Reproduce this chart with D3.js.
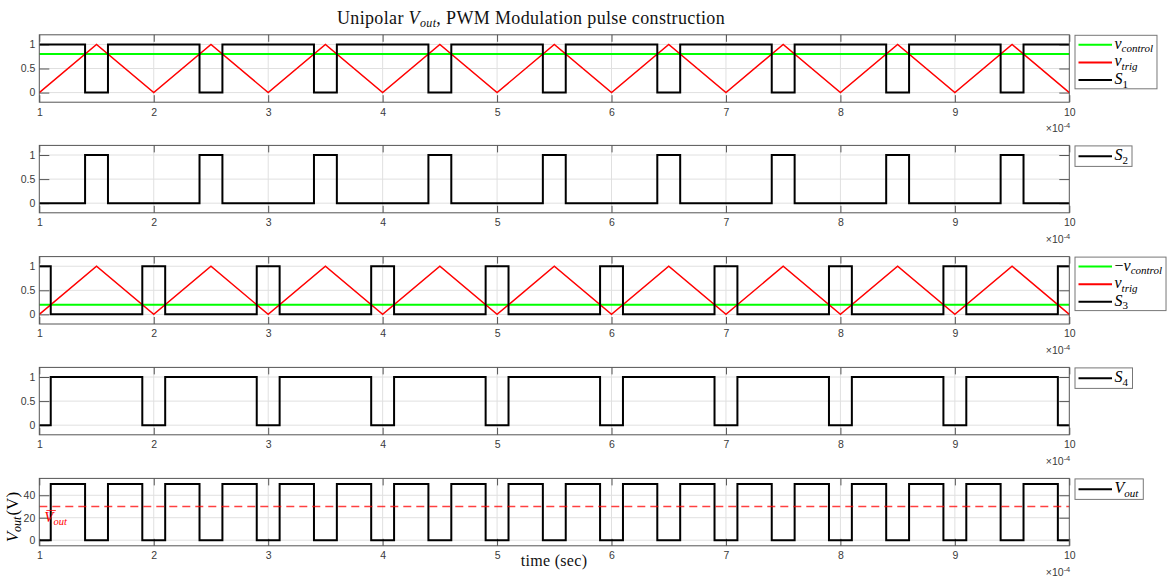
<!DOCTYPE html>
<html>
<head>
<meta charset="utf-8">
<script src="https://cdn.jsdelivr.net/npm/d3@7"></script>
<style>
  body { margin: 0; background: #fff; }
  svg { display: block; }
</style>
</head>
<body>
<svg id="chart" width="1168" height="577"></svg>
<script>
// Time is expressed in units of 1e-4 s.
const carrierT = [1, 1.5, 2, 2.5, 3, 3.5, 4, 4.5, 5, 5.5, 6, 6.5, 7, 7.5, 8, 8.5, 9, 9.5, 10];
const carrierV = [0, 1, 0, 1, 0, 1, 0, 1, 0, 1, 0, 1, 0, 1, 0, 1, 0, 1, 0];

const vControl = 0.8;
const vControlNeg = 0.2;

// Switch edges (value holds until the next instant)
const s1T = [1, 1.4, 1.6, 2.4, 2.6, 3.4, 3.6, 4.4, 4.6, 5.4, 5.6, 6.4, 6.6, 7.4, 7.6, 8.4, 8.6, 9.4, 9.6, 10];
const s1V = [1, 0, 1, 0, 1, 0, 1, 0, 1, 0, 1, 0, 1, 0, 1, 0, 1, 0, 1, 1];
const s2V = [0, 1, 0, 1, 0, 1, 0, 1, 0, 1, 0, 1, 0, 1, 0, 1, 0, 1, 0, 0];

const s3T = [1, 1.1, 1.9, 2.1, 2.9, 3.1, 3.9, 4.1, 4.9, 5.1, 5.9, 6.1, 6.9, 7.1, 7.9, 8.1, 8.9, 9.1, 9.9, 10];
const s3V = [1, 0, 1, 0, 1, 0, 1, 0, 1, 0, 1, 0, 1, 0, 1, 0, 1, 0, 1, 1];
const s4V = [0, 1, 0, 1, 0, 1, 0, 1, 0, 1, 0, 1, 0, 1, 0, 1, 0, 1, 0, 0];

const voutT = [1, 1.1, 1.4, 1.6, 1.9, 2.1, 2.4, 2.6, 2.9, 3.1, 3.4, 3.6, 3.9, 4.1, 4.4, 4.6, 4.9,
               5.1, 5.4, 5.6, 5.9, 6.1, 6.4, 6.6, 6.9, 7.1, 7.4, 7.6, 7.9, 8.1, 8.4, 8.6, 8.9,
               9.1, 9.4, 9.6, 9.9, 10];
const voutV = [0, 50, 0, 50, 0, 50, 0, 50, 0, 50, 0, 50, 0, 50, 0, 50, 0,
               50, 0, 50, 0, 50, 0, 50, 0, 50, 0, 50, 0, 50, 0, 50, 0,
               50, 0, 50, 0, 0];
const voutMean = 30;

const xTicks = [1, 2, 3, 4, 5, 6, 7, 8, 9, 10];
const yTicksSwitch = [0, 0.5, 1];
const yTicksVout = [0, 20, 40];

// ---------------------------------------------------------------
const svg = d3.select("#chart");
const W = 1168, H = 577;
const axL = 39.3, axR = 1069.3, axH = 67.4;
const tops = [34.8, 145.4, 256.6, 367.4, 478.4];

const AXIS_COL = "#555";
const GRID_COL = "#e0e0e0";
const TICK_COL = "#3a3a3a";
const TICK_FONT = "'Liberation Sans', Arial, sans-serif";
const MATH_FONT = "'Liberation Serif', 'Times New Roman', serif";

const x = d3.scaleLinear().domain([1, 10]).range([axL, axR]);

const zip = (t, v) => t.map((d, i) => [d, v[i]]);
const flat = (val) => [[1, val], [10, val]];

const panels = [
  {
    yDomain: [-0.2, 1.2], yTicks: yTicksSwitch,
    series: [
      { data: flat(vControl), color: "#00ff00", width: 2, step: false },
      { data: zip(carrierT, carrierV), color: "#ff0000", width: 1.5, step: false },
      { data: zip(s1T, s1V), color: "#000", width: 2, step: true }
    ],
    legend: [
      { color: "#00ff00", base: "v", sub: "control", subItalic: true },
      { color: "#ff0000", base: "v", sub: "trig", subItalic: true },
      { color: "#000", base: "S", sub: "1", subItalic: false }
    ]
  },
  {
    yDomain: [-0.2, 1.2], yTicks: yTicksSwitch,
    series: [ { data: zip(s1T, s2V), color: "#000", width: 2, step: true } ],
    legend: [ { color: "#000", base: "S", sub: "2", subItalic: false } ]
  },
  {
    yDomain: [-0.2, 1.2], yTicks: yTicksSwitch,
    series: [
      { data: flat(vControlNeg), color: "#00ff00", width: 2, step: false },
      { data: zip(carrierT, carrierV), color: "#ff0000", width: 1.5, step: false },
      { data: zip(s3T, s3V), color: "#000", width: 2, step: true }
    ],
    legend: [
      { color: "#00ff00", prefix: "\u2212", base: "v", sub: "control", subItalic: true },
      { color: "#ff0000", base: "v", sub: "trig", subItalic: true },
      { color: "#000", base: "S", sub: "3", subItalic: false }
    ]
  },
  {
    yDomain: [-0.2, 1.2], yTicks: yTicksSwitch,
    series: [ { data: zip(s3T, s4V), color: "#000", width: 2, step: true } ],
    legend: [ { color: "#000", base: "S", sub: "4", subItalic: false } ]
  },
  {
    yDomain: [-5, 55], yTicks: yTicksVout,
    series: [
      { data: zip(voutT, voutV), color: "#000", width: 2, step: true },
      { data: flat(voutMean), color: "#ff0000", width: 1.5, step: false, dash: "8,5", opacity: 0.75 }
    ],
    legend: [ { color: "#000", base: "V", sub: "out", subItalic: true } ]
  }
];

// Writes a math-style label (italic base letter with subscript) into a text element
function mathLabel(textSel, item, size, subSize) {
  if (item.prefix) {
    textSel.append("tspan").text(item.prefix).attr("font-size", size);
  }
  textSel.append("tspan").text(item.base)
    .attr("font-style", "italic").attr("font-size", size);
  textSel.append("tspan").text(item.sub)
    .attr("font-style", item.subItalic ? "italic" : "normal")
    .attr("font-size", subSize).attr("dy", size * 0.22);
}

panels.forEach((p, idx) => {
  const top = tops[idx];
  const y = d3.scaleLinear().domain(p.yDomain).range([top + axH, top]);
  const g = svg.append("g");

  // grid
  g.append("g").selectAll("line").data(xTicks.slice(1, -1)).join("line")
    .attr("x1", d => x(d)).attr("x2", d => x(d))
    .attr("y1", top).attr("y2", top + axH)
    .attr("stroke", GRID_COL).attr("stroke-width", 1);
  g.append("g").selectAll("line").data(p.yTicks).join("line")
    .attr("x1", axL).attr("x2", axR)
    .attr("y1", d => y(d)).attr("y2", d => y(d))
    .attr("stroke", GRID_COL).attr("stroke-width", 1);

  // inward tick marks on all four sides
  const xAxisB = d3.axisBottom(x).tickValues(xTicks).tickSizeInner(-7).tickSizeOuter(0)
    .tickFormat(d3.format("d")).tickPadding(6);
  const xAxisT = d3.axisTop(x).tickValues(xTicks).tickSizeInner(-7).tickSizeOuter(0).tickFormat("");
  const yAxisL = d3.axisLeft(y).tickValues(p.yTicks).tickSizeInner(-10).tickSizeOuter(0).tickPadding(4)
    .tickFormat(d => String(d));
  const yAxisR = d3.axisRight(y).tickValues(p.yTicks).tickSizeInner(-10).tickSizeOuter(0).tickFormat("");

  const styleAxis = (sel) => {
    sel.select(".domain").remove();
    sel.selectAll(".tick line").attr("stroke", AXIS_COL).attr("stroke-width", 1);
    sel.selectAll(".tick text").attr("fill", TICK_COL).attr("font-family", TICK_FONT).attr("font-size", 10.5);
  };
  g.append("g").attr("transform", `translate(0,${top + axH})`).call(xAxisB).call(styleAxis);
  g.append("g").attr("transform", `translate(0,${top})`).call(xAxisT).call(styleAxis);
  g.append("g").attr("transform", `translate(${axL},0)`).call(yAxisL).call(styleAxis);
  g.append("g").attr("transform", `translate(${axR},0)`).call(yAxisR).call(styleAxis);

  // data lines
  p.series.forEach(s => {
    const line = d3.line().x(d => x(d[0])).y(d => y(d[1]))
      .curve(s.step ? d3.curveStepAfter : d3.curveLinear);
    g.append("path").datum(s.data)
      .attr("d", line)
      .attr("fill", "none")
      .attr("stroke", s.color)
      .attr("stroke-width", s.width)
      .attr("stroke-dasharray", s.dash || null)
      .attr("stroke-opacity", s.opacity || 1)
      .attr("stroke-linejoin", "miter");
  });

  // axes box
  g.append("rect").attr("x", axL).attr("y", top).attr("width", axR - axL).attr("height", axH)
    .attr("fill", "none").attr("stroke", AXIS_COL).attr("stroke-width", 1);

  // exponent note
  const ex = g.append("text").attr("x", axR + 1).attr("y", top + axH + 30)
    .attr("text-anchor", "end").attr("fill", TICK_COL).attr("font-family", TICK_FONT).attr("font-size", 10.5);
  ex.append("tspan").text("\u00d710");
  ex.append("tspan").text("-4").attr("font-size", 7.5).attr("dy", -4);

  // legend
  const lg = g.append("g");
  const rowH = 17.6;
  const boxTop = top + 0.5;
  const boxH = p.legend.length === 1 ? 20.5 : 53.5;
  const firstRow = p.legend.length === 1 ? boxTop + boxH / 2 : boxTop + 9.5;
  const box = lg.append("rect").attr("x", 1075).attr("y", boxTop).attr("height", boxH)
    .attr("fill", "#fff").attr("stroke", "#777").attr("stroke-width", 1);
  let maxEnd = 0;
  p.legend.forEach((item, i) => {
    const cy = firstRow + i * rowH;
    lg.append("line").attr("x1", 1078.5).attr("x2", 1112).attr("y1", cy).attr("y2", cy)
      .attr("stroke", item.color).attr("stroke-width", 2);
    const t = lg.append("text").attr("x", 1114.5).attr("y", cy + 4)
      .attr("font-family", MATH_FONT).attr("fill", "#000");
    mathLabel(t, item, 16, 11);
    const bb = t.node().getBBox();
    maxEnd = Math.max(maxEnd, bb.x + bb.width);
  });
  box.attr("width", Math.min(W - 1 - 1075, maxEnd + 4 - 1075));

  // panel-specific annotations
  if (idx === 4) {
    const yl = svg.append("text")
      .attr("transform", `translate(18,${top + axH / 2 + 5}) rotate(-90)`)
      .attr("text-anchor", "middle").attr("font-family", MATH_FONT).attr("fill", "#000");
    yl.append("tspan").text("V").attr("font-style", "italic").attr("font-size", 17);
    yl.append("tspan").text("out").attr("font-style", "italic").attr("font-size", 12).attr("dy", 3);
    yl.append("tspan").text("(V)").attr("font-size", 17).attr("dy", -3).attr("dx", 1);

    const mx = axL + 5, my = y(voutMean) + 16;
    const ml = svg.append("text").attr("x", mx).attr("y", my)
      .attr("font-family", MATH_FONT).attr("fill", "#ff0000");
    ml.append("tspan").text("V").attr("font-style", "italic").attr("font-size", 15);
    ml.append("tspan").text("out").attr("font-style", "italic").attr("font-size", 10.5).attr("dy", 3);
    svg.append("line").attr("x1", mx + 2).attr("x2", mx + 11.5)
      .attr("y1", my - 12).attr("y2", my - 12)
      .attr("stroke", "#ff0000").attr("stroke-width", 0.8);
  }
});

// title
const title = svg.append("text").attr("x", 531).attr("y", 24)
  .attr("text-anchor", "middle").attr("font-family", MATH_FONT).attr("font-size", 18)
  .attr("letter-spacing", 0.35).attr("fill", "#111");
title.append("tspan").text("Unipolar ");
title.append("tspan").text("V").attr("font-style", "italic");
title.append("tspan").text("out").attr("font-style", "italic").attr("font-size", 12).attr("dy", 3);
title.append("tspan").text(", PWM Modulation pulse construction").attr("dy", -3);

// x-axis label
svg.append("text").attr("x", 554).attr("y", 566)
  .attr("text-anchor", "middle").attr("font-family", MATH_FONT).attr("font-size", 16)
  .attr("letter-spacing", 0.3).attr("fill", "#111")
  .text("time (sec)");
</script>
</body>
</html>
